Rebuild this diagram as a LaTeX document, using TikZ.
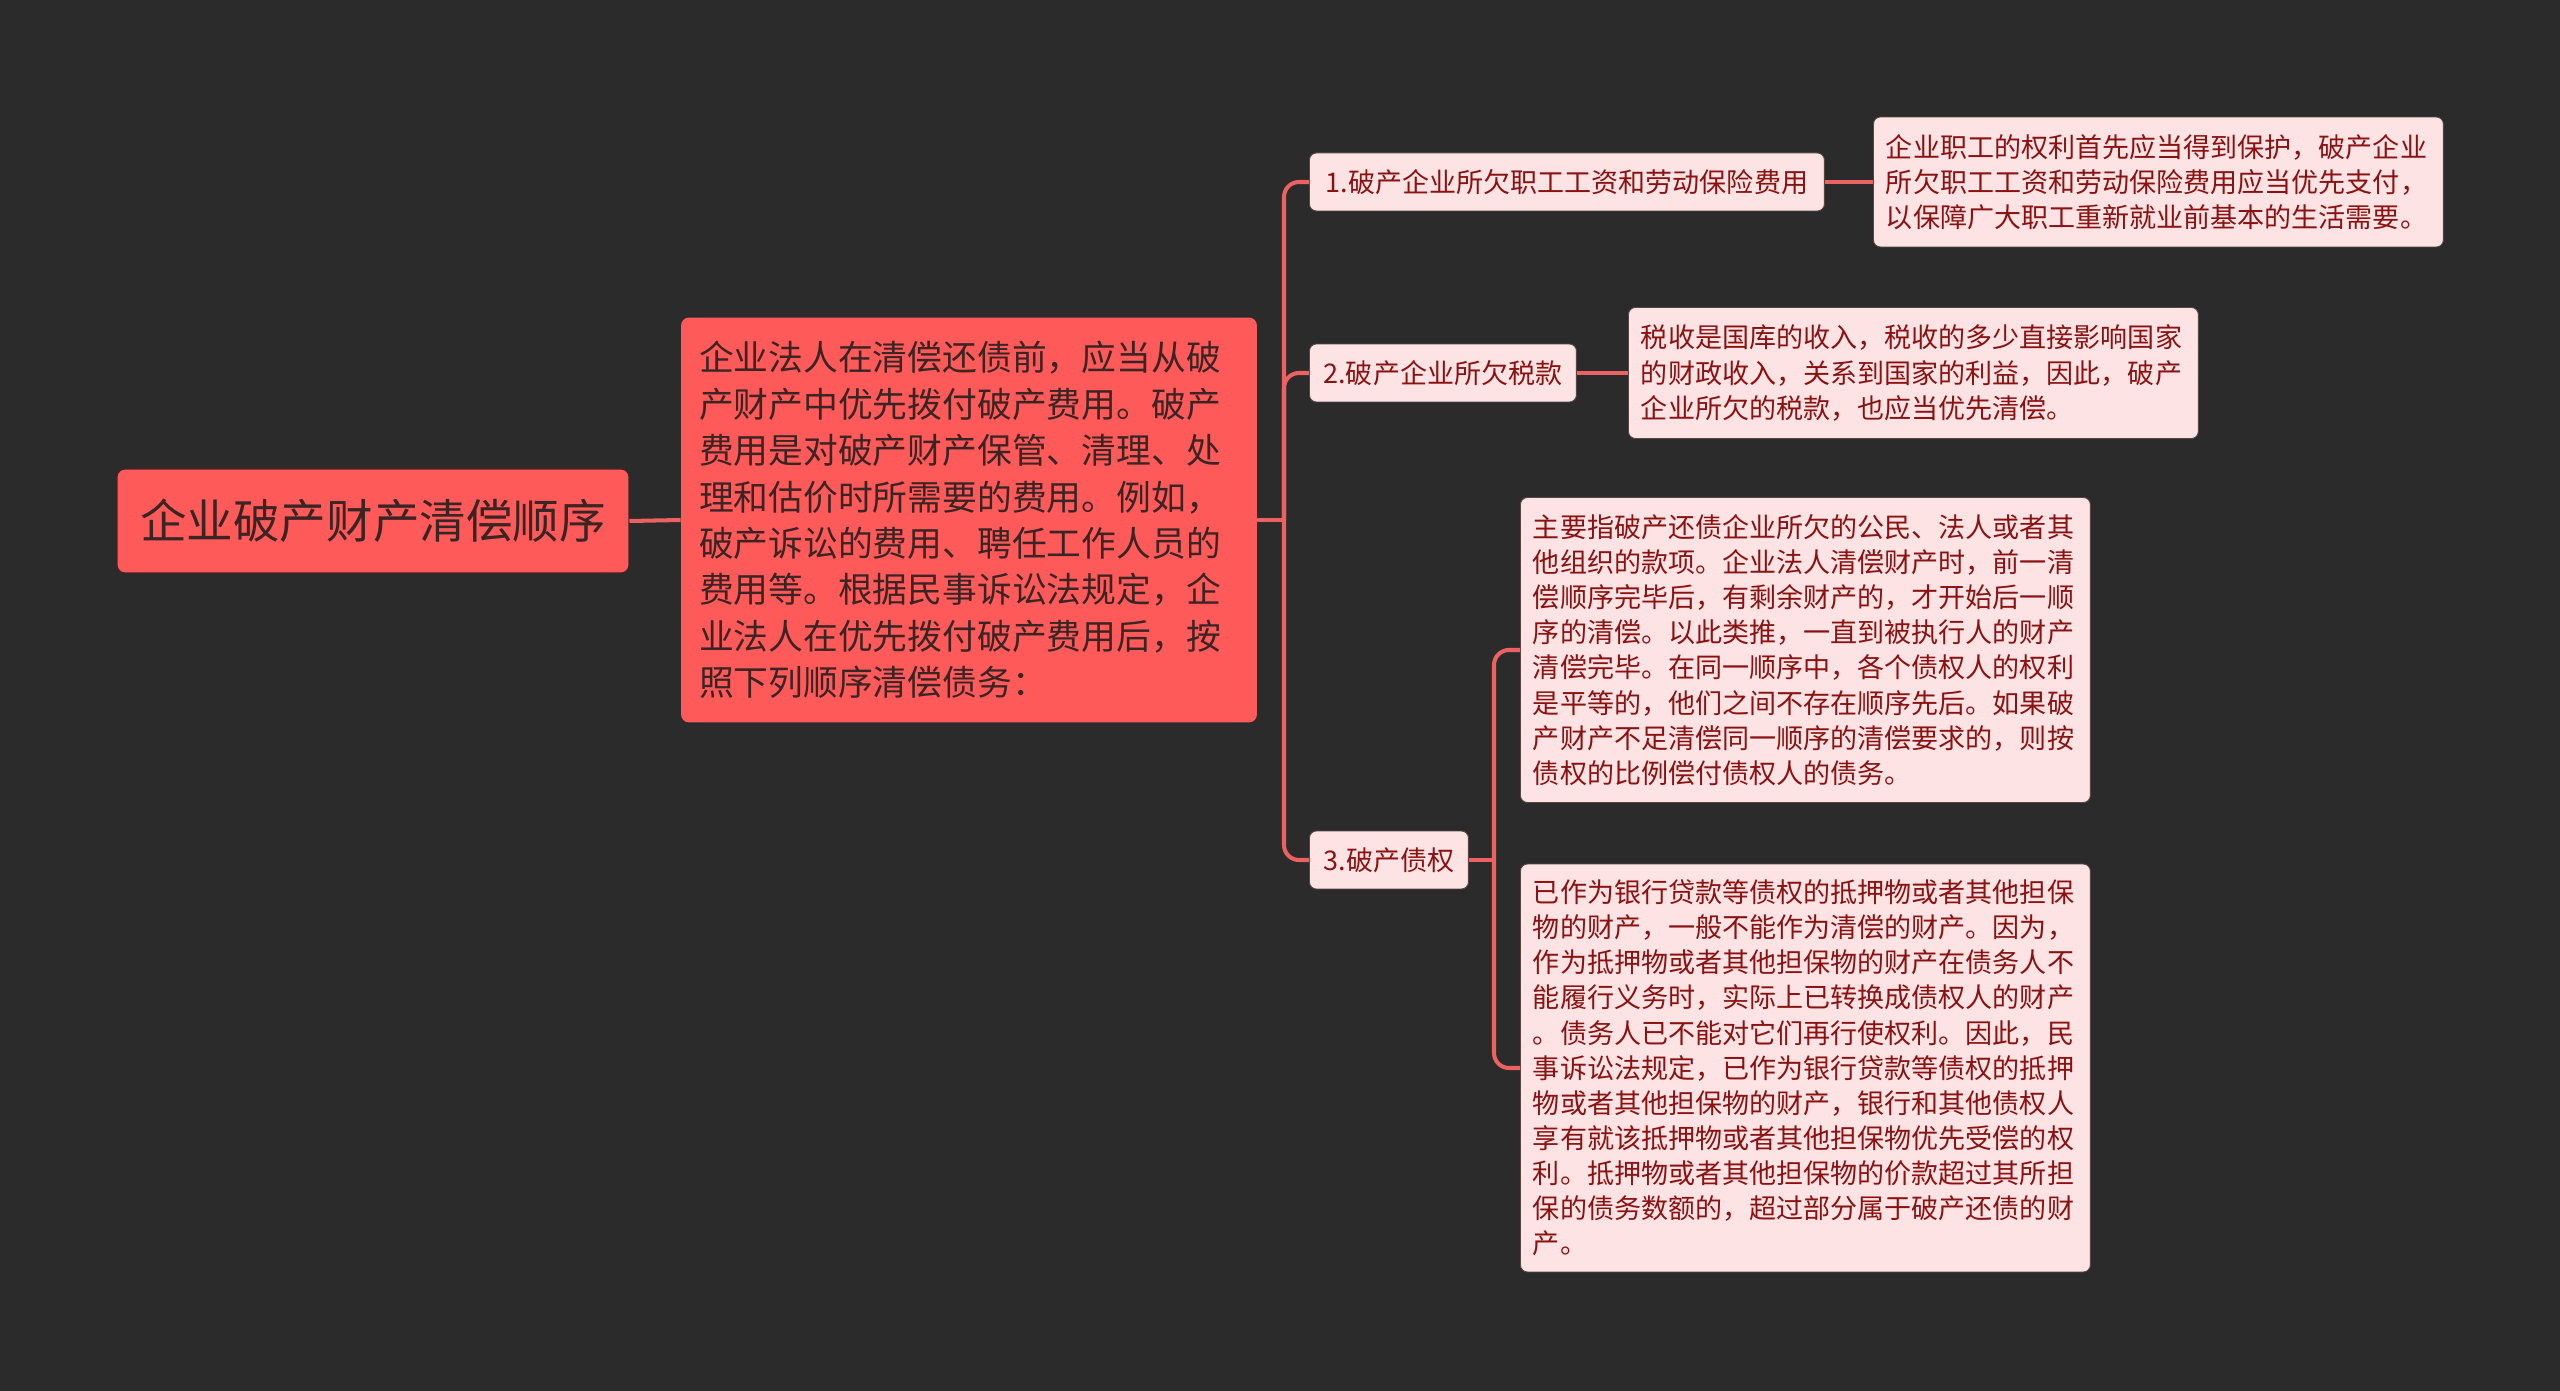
\documentclass[tikz,border=0pt]{standalone}
\usepackage{fontspec}
\setmainfont{Noto Sans CJK SC}
\usepackage{tikz}
\usetikzlibrary{positioning}
\definecolor{bgc}{HTML}{2B2B2B}
\definecolor{hot}{HTML}{FF5A5A}
\definecolor{hotline}{HTML}{4A2222}
\definecolor{hottext}{HTML}{3A2424}
\definecolor{pale}{HTML}{FDE3E3}
\definecolor{paleline}{HTML}{5A4545}
\definecolor{paletext}{HTML}{8B1212}
\definecolor{wire}{HTML}{EC6262}
\tikzset{
  rootbox/.style={draw=hotline, line width=0.6pt, fill=hot, text=hottext, rounded corners=0.16cm,
    font=\fontsize{26.5}{32}\selectfont, minimum width=10.24cm, minimum height=2.08cm},
  feebox/.style={fill=hot, text=hottext, rounded corners=0.16cm, align=left, text width=10.8cm,
    inner xsep=0.36cm, font=\fontsize{19.8}{26.4}\selectfont, minimum height=8.1cm},
  itembox/.style={draw=paleline, line width=0.5pt, fill=pale, text=paletext, rounded corners=0.14cm,
    font=\fontsize{15.4}{20}\selectfont, minimum height=1.16cm, anchor=west},
  notebox/.style={draw=paleline, line width=0.5pt, fill=pale, text=paletext, rounded corners=0.14cm,
    align=left, text width=10.9cm, inner xsep=0.25cm, font=\fontsize{15.4}{20}\selectfont, anchor=west},
  wirestyle/.style={draw=wire, line width=2.3pt, rounded corners=0.3cm}
}
\begin{document}
\begin{tikzpicture}[x=0.02cm, y=-0.02cm]
  \fill[bgc] (0,0) rectangle (2560,1391);
  \useasboundingbox (0,0) rectangle (2560,1391);

  % root and its text
  \node[rootbox] (root) at (373,521) {企业破产财产清偿顺序};
  \node[feebox] (fee) at (969,520) {企业法人在清偿还债前，应当从破\\产财产中优先拨付破产费用。破产\\费用是对破产财产保管、清理、处\\理和估价时所需要的费用。例如，\\破产诉讼的费用、聘任工作人员的\\费用等。根据民事诉讼法规定，企\\业法人在优先拨付破产费用后，按\\照下列顺序清偿债务：};

  % the three items
  \node[itembox, minimum width=10.3cm] (item1) at (1309,182) {1.破产企业所欠职工工资和劳动保险费用};
  \node[itembox, minimum width=5.34cm] (item2) at (1309,373) {2.破产企业所欠税款};
  \node[itembox, minimum width=3.18cm] (item3) at (1309,860) {3.破产债权};

  % notes
  \node[notebox, minimum height=2.6cm] (note1) at (1873,182) {企业职工的权利首先应当得到保护，破产企业\\所欠职工工资和劳动保险费用应当优先支付，\\以保障广大职工重新就业前基本的生活需要。};
  \node[notebox, minimum height=2.62cm] (note2) at (1628,373) {税收是国库的收入，税收的多少直接影响国家\\的财政收入，关系到国家的利益，因此，破产\\企业所欠的税款，也应当优先清偿。};
  \node[notebox, minimum height=6.1cm] (note3a) at (1520,650) {主要指破产还债企业所欠的公民、法人或者其\\他组织的款项。企业法人清偿财产时，前一清\\偿顺序完毕后，有剩余财产的，才开始后一顺\\序的清偿。以此类推，一直到被执行人的财产\\清偿完毕。在同一顺序中，各个债权人的权利\\是平等的，他们之间不存在顺序先后。如果破\\产财产不足清偿同一顺序的清偿要求的，则按\\债权的比例偿付债权人的债务。};
  \node[notebox, minimum height=8.16cm] (note3b) at (1520,1068) {已作为银行贷款等债权的抵押物或者其他担保\\物的财产，一般不能作为清偿的财产。因为，\\作为抵押物或者其他担保物的财产在债务人不\\能履行义务时，实际上已转换成债权人的财产\\。债务人已不能对它们再行使权利。因此，民\\事诉讼法规定，已作为银行贷款等债权的抵押\\物或者其他担保物的财产，银行和其他债权人\\享有就该抵押物或者其他担保物优先受偿的权\\利。抵押物或者其他担保物的价款超过其所担\\保的债务数额的，超过部分属于破产还债的财\\产。};

  % connectors
  \coordinate (fork) at (1284,520);
  \coordinate (fork3) at (1494,860);
  \draw[wirestyle] (root.east) -- (fee.west);
  \draw[wirestyle] (fee.east) -- (fork);
  \foreach \n in {item1,item2,item3}
    \draw[wirestyle] (fork) |- (\n.west);
  \draw[wirestyle] (item1.east) -- (note1.west);
  \draw[wirestyle] (item2.east) -- (note2.west);
  \draw[wirestyle] (item3.east) -- (fork3);
  \draw[wirestyle] (fork3) |- (note3a.west);
  \draw[wirestyle] (fork3) |- (note3b.west);
\end{tikzpicture}
\end{document}
